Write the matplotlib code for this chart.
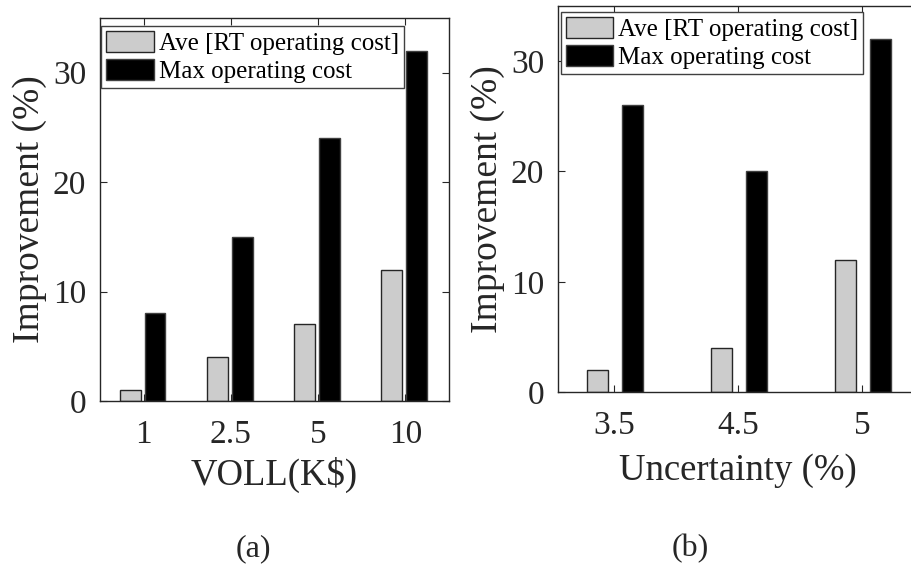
import matplotlib
matplotlib.use('Agg')
import matplotlib.pyplot as plt
import numpy as np

plt.rcParams['font.family'] = ['Liberation Serif', 'DejaVu Serif']
plt.rcParams['text.color'] = '#262626'
plt.rcParams['axes.labelcolor'] = '#262626'
plt.rcParams['xtick.color'] = '#262626'
plt.rcParams['ytick.color'] = '#262626'

# panel (a)
voll_labels = ['1', '2.5', '5', '10']
voll_ave = [1, 4, 7, 12]
voll_max = [8, 15, 24, 32]

# panel (b)
unc_labels = ['3.5', '4.5', '5']
unc_ave = [2, 4, 12]
unc_max = [26, 20, 32]

legend_names = ['Ave [RT operating cost]', 'Max operating cost']
ylab = 'Improvement (%)'

fig = plt.figure(figsize=(9.11, 5.69), dpi=100)
ax1 = fig.add_axes([0.1098, 0.2953, 0.3831, 0.6731])
ax2 = fig.add_axes([0.6125, 0.3110, 0.3952, 0.6784])


def draw(ax, labels, ave, mx, offs, w, xlim, legpos):
    x = np.arange(1, len(labels) + 1)
    ax.bar(x + offs[0], ave, w, color='#cccccc', edgecolor='#262626', linewidth=1.0,
           label=legend_names[0])
    ax.bar(x + offs[1], mx, w, color='black', edgecolor='#404040', linewidth=1.0,
           label=legend_names[1])
    ax.set_xlim(*xlim)
    ax.set_ylim(0, 35)
    ax.set_xticks(x)
    ax.set_xticklabels(labels)
    ax.set_yticks([0, 10, 20, 30])
    ax.tick_params(direction='in', top=True, right=True, length=5, width=0.8,
                   labelsize=24)
    ax.tick_params(axis='x', pad=13)
    ax.tick_params(axis='y', pad=10)
    for s in ax.spines.values():
        s.set_color('#262626')
        s.set_linewidth(1.0)
    leg = ax.legend(loc='upper left', bbox_to_anchor=legpos, fontsize=18,
                    handlelength=1.9, handleheight=0.9, handletextpad=0.2,
                    labelspacing=0.15, borderpad=0.2, borderaxespad=0.0,
                    fancybox=False, framealpha=1.0, edgecolor='#404040')
    leg.get_frame().set_linewidth(1.0)
    for t in leg.get_texts():
        t.set_color('black')
    ax.set_ylabel(ylab, fontsize=27, labelpad=4)


draw(ax1, voll_labels, voll_ave, voll_max, (-0.155, 0.13), 0.24, (0.5, 4.5), (0.003, 0.979))
ax1.set_xlabel('VOLL(K$)', fontsize=26.5, labelpad=5)

draw(ax2, unc_labels, unc_ave, unc_max, (-0.135, 0.15), 0.17, (0.55, 3.45), (0.008, 0.984))
ax2.set_xlabel('Uncertainty (%)', fontsize=26.5, labelpad=9)

fig.text(253 / 911, 1 - 549 / 569, '(a)', fontsize=23, ha='center', va='center')
fig.text(690 / 911, 1 - 549 / 569, '(b)', fontsize=23, ha='center', va='center')

fig.savefig('out.png', dpi=100)
